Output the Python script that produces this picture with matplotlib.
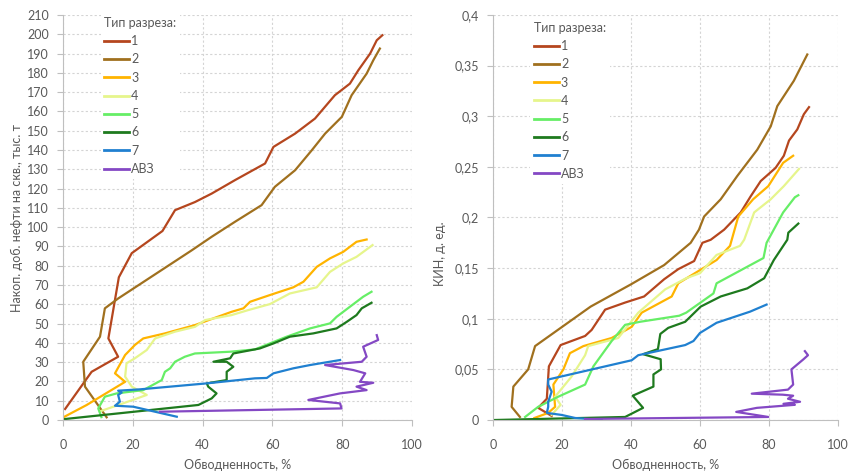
import numpy as np
import matplotlib
matplotlib.use("Agg")
import matplotlib.pyplot as plt
from matplotlib.ticker import MultipleLocator, FuncFormatter

# ---- data: left panel (накопленная добыча, тыс. т) ----
labels = ["1", "2", "3", "4", "5", "6", "7", "АВЗ"]
colors = ["#B5461E", "#A0701E", "#FFB400", "#E6F58C", "#66EE66", "#1E7A1E", "#2080D0", "#8448C4"]

l1_x = [0.6, 8.2, 15.8, 13.0, 16.0, 19.7, 28.5, 32.1, 37.8, 42.6, 49.3, 57.9, 60.3, 66.5, 72.2, 77.9, 82.2, 84.6, 88.0, 89.9, 91.5]
l1_y = [5.7, 25.0, 32.8, 42.3, 74.0, 86.5, 98.0, 108.8, 113.0, 117.4, 124.4, 133.0, 141.6, 148.5, 156.3, 168.4, 174.4, 181.3, 190.0, 196.9, 199.5]
l2_x = [12.5, 6.3, 5.8, 10.6, 12.0, 15.8, 32.6, 36.9, 42.6, 49.3, 56.9, 60.7, 66.5, 71.3, 75.1, 79.9, 82.7, 87.0, 88.9, 90.8]
l2_y = [1.4, 17.3, 30.2, 43.2, 57.9, 63.0, 82.9, 88.0, 95.0, 102.8, 111.4, 120.9, 129.5, 139.9, 148.5, 157.2, 168.4, 179.6, 186.5, 192.6]
l3_x = [0.1, 6.8, 17.8, 14.9, 17.8, 20.6, 23.0, 29.2, 37.8, 43.1, 48.3, 51.7, 53.6, 59.3, 66.0, 68.9, 72.7, 76.5, 80.3, 84.1, 87.0]
l3_y = [1.4, 7.8, 19.8, 24.2, 33.7, 38.9, 42.3, 44.9, 49.2, 52.7, 56.1, 57.9, 61.3, 64.8, 68.8, 71.7, 79.4, 83.8, 87.2, 92.4, 93.6]
l4_x = [10.6, 17.8, 24.0, 19.7, 17.8, 18.2, 20.6, 24.0, 26.4, 32.1, 37.8, 40.7, 48.3, 53.1, 59.3, 65.0, 72.7, 76.5, 80.3, 84.1, 88.7]
l4_y = [4.5, 9.0, 13.0, 17.3, 22.5, 29.4, 32.0, 36.3, 42.3, 45.8, 48.3, 51.8, 54.4, 57.0, 60.1, 65.6, 68.8, 76.8, 81.2, 84.6, 90.7]
l5_x = [11.0, 10.1, 12.0, 15.4, 23.0, 28.3, 29.2, 30.7, 32.1, 34.9, 37.8, 47.9, 55.0, 64.1, 70.8, 76.5, 78.4, 82.2, 86.0, 88.4]
l5_y = [1.5, 6.0, 12.1, 13.8, 15.5, 20.7, 25.0, 26.8, 30.2, 32.8, 34.5, 35.4, 36.6, 43.2, 47.5, 50.1, 53.5, 58.7, 63.9, 66.5]
l6_x = [0.0, 38.8, 42.6, 44.0, 41.6, 41.2, 46.9, 46.9, 48.8, 46.9, 43.1, 47.9, 48.8, 56.4, 60.3, 65.0, 71.7, 78.4, 81.3, 84.1, 85.6, 88.4]
l6_y = [0.4, 7.8, 11.2, 13.8, 17.3, 19.0, 20.7, 25.0, 27.6, 30.2, 30.2, 32.0, 34.5, 37.1, 39.7, 43.2, 44.9, 47.5, 50.9, 54.4, 57.9, 60.8]
l7_x = [32.6, 20.1, 14.9, 16.3, 15.8, 16.8, 15.8, 22.1, 41.2, 55.0, 58.4, 60.3, 66.0, 70.8, 79.4]
l7_y = [1.7, 6.9, 7.4, 9.5, 13.0, 14.2, 15.2, 15.9, 19.0, 21.6, 21.8, 24.2, 26.8, 28.5, 31.1]
l8_x = [27.8, 79.8, 79.4, 70.3, 79.4, 87.0, 84.1, 88.9, 85.1, 86.6, 83.2, 75.1, 85.6, 87.0, 86.0, 90.3, 89.9]
l8_y = [4.3, 6.0, 8.6, 10.4, 13.8, 15.5, 17.3, 19.3, 19.8, 24.2, 25.9, 28.5, 30.2, 32.8, 38.0, 41.5, 44.0]

# ---- data: right panel (КИН, д. ед.) ----
r1_x = [17.0, 13.1, 15.6, 16.2, 19.6, 26.7, 28.6, 32.5, 38.3, 43.8, 49.6, 53.7, 58.3, 60.7, 63.1, 67.0, 71.8, 74.7, 77.6, 81.9, 84.3, 85.8, 88.2, 90.1, 91.6]
r1_y = [0.004, 0.012, 0.021, 0.053, 0.074, 0.083, 0.089, 0.109, 0.116, 0.122, 0.139, 0.149, 0.157, 0.175, 0.178, 0.188, 0.205, 0.221, 0.236, 0.249, 0.261, 0.276, 0.287, 0.302, 0.309]
r2_x = [7.8, 5.4, 5.9, 10.2, 12.2, 28.3, 40.0, 49.6, 57.3, 59.7, 61.2, 66.0, 70.8, 76.6, 80.5, 82.4, 87.2, 91.1]
r2_y = [0.003, 0.013, 0.033, 0.050, 0.073, 0.112, 0.134, 0.153, 0.175, 0.188, 0.201, 0.218, 0.241, 0.267, 0.290, 0.310, 0.335, 0.361]
r3_x = [12.0, 16.0, 18.0, 17.5, 20.4, 22.3, 26.2, 34.4, 40.2, 43.1, 51.8, 53.7, 64.8, 68.7, 71.1, 75.4, 79.8, 84.1, 87.0]
r3_y = [0.002, 0.007, 0.013, 0.035, 0.050, 0.066, 0.073, 0.081, 0.092, 0.106, 0.122, 0.135, 0.158, 0.172, 0.201, 0.218, 0.231, 0.254, 0.261]
r4_x = [17.0, 19.6, 18.0, 22.8, 26.7, 27.6, 36.3, 42.1, 49.9, 56.0, 60.0, 64.8, 71.6, 72.8, 75.7, 80.5, 84.3, 88.7]
r4_y = [0.005, 0.015, 0.023, 0.043, 0.064, 0.073, 0.081, 0.106, 0.129, 0.140, 0.145, 0.163, 0.172, 0.178, 0.205, 0.218, 0.231, 0.248]
r5_x = [9.3, 13.1, 18.9, 26.7, 29.1, 34.4, 38.3, 42.6, 54.0, 56.0, 63.9, 64.8, 78.4, 79.3, 84.1, 87.5, 88.5]
r5_y = [0.003, 0.013, 0.023, 0.035, 0.053, 0.078, 0.094, 0.097, 0.103, 0.106, 0.125, 0.135, 0.160, 0.175, 0.205, 0.220, 0.222]
r6_x = [0.6, 38.3, 43.5, 40.5, 46.5, 46.5, 48.7, 48.6, 43.5, 47.8, 48.5, 50.8, 55.7, 60.2, 66.0, 73.7, 78.6, 81.4, 85.3, 85.6, 88.5]
r6_y = [0.0, 0.003, 0.012, 0.024, 0.033, 0.045, 0.050, 0.060, 0.065, 0.070, 0.085, 0.091, 0.097, 0.112, 0.122, 0.130, 0.140, 0.158, 0.178, 0.185, 0.194]
r7_x = [31.5, 23.8, 19.9, 15.6, 16.0, 16.0, 16.5, 17.0, 16.0, 16.0, 40.2, 42.1, 55.7, 58.1, 60.0, 64.8, 74.5, 79.3]
r7_y = [0.0, 0.002, 0.005, 0.007, 0.013, 0.018, 0.023, 0.028, 0.035, 0.040, 0.059, 0.064, 0.074, 0.078, 0.086, 0.096, 0.107, 0.114]
r8_x = [26.7, 79.8, 70.5, 76.5, 87.5, 84.2, 89.0, 85.5, 87.0, 84.0, 75.0, 85.5, 87.0, 86.5, 90.0, 91.3, 90.4]
r8_y = [0.001, 0.003, 0.008, 0.012, 0.015, 0.016, 0.018, 0.021, 0.024, 0.025, 0.026, 0.030, 0.035, 0.050, 0.060, 0.064, 0.068]

left_series = [(l1_x, l1_y), (l2_x, l2_y), (l3_x, l3_y), (l4_x, l4_y),
               (l5_x, l5_y), (l6_x, l6_y), (l7_x, l7_y), (l8_x, l8_y)]
right_series = [(r1_x, r1_y), (r2_x, r2_y), (r3_x, r3_y), (r4_x, r4_y),
                (r5_x, r5_y), (r6_x, r6_y), (r7_x, r7_y), (r8_x, r8_y)]

plt.rcParams['font.family'] = ['Lato', 'DejaVu Sans']
plt.rcParams['font.size'] = 9
txt = "#595959"

fig = plt.figure(figsize=(8.48, 4.73), dpi=100)
ax1 = fig.add_axes([63 / 848, 53 / 473, 349 / 848, 405 / 473])
ax2 = fig.add_axes([493 / 848, 53 / 473, 345 / 848, 405 / 473])


def style(ax, ymax, ystep):
    ax.set_xlim(0, 100)
    ax.set_ylim(0, ymax)
    ax.xaxis.set_major_locator(MultipleLocator(20))
    ax.yaxis.set_major_locator(MultipleLocator(ystep))
    ax.grid(True, color="#D4D4D4", linestyle=(0, (2, 2)), linewidth=0.8)
    ax.set_axisbelow(True)
    for s in ["top", "right"]:
        ax.spines[s].set_visible(False)
    for s in ["left", "bottom"]:
        ax.spines[s].set_color("#BFBFBF")
        ax.spines[s].set_linewidth(0.8)
    ax.tick_params(colors=txt, labelsize=9, length=4, width=0.8, pad=6)
    ax.tick_params(axis="both", color="#BFBFBF")
    ax.tick_params(axis="x", pad=10)
    ax.set_xlabel("Обводненность, %", color=txt, fontsize=9, labelpad=5)


for ax, series in [(ax1, left_series), (ax2, right_series)]:
    for (x, y), c, lab in zip(series, colors, labels):
        ax.plot(x, y, color=c, lw=1.6, label=lab, solid_joinstyle="round")

style(ax1, 210, 10)
style(ax2, 0.4, 0.05)
ax2.yaxis.set_major_formatter(FuncFormatter(lambda v, p: ("%g" % round(v, 3)).replace(".", ",")))

ax1.set_ylabel("Накоп. доб. нефти на скв., тыс. т", color=txt, fontsize=9)
ax1.yaxis.set_label_coords(-0.115, 0.5)
ax2.set_ylabel("КИН, д. ед.", color=txt, fontsize=9)
ax2.yaxis.set_label_coords(-0.136, 0.41)

for ax, anchor in [(ax1, (0.09, 1.02)), (ax2, (0.09, 1.008))]:
    leg = ax.legend(loc="upper left", bbox_to_anchor=anchor, title="Тип разреза:",
                    frameon=True, fancybox=False, edgecolor="none", facecolor="white",
                    framealpha=1, fontsize=9, title_fontsize=9, handlelength=2.0,
                    handletextpad=0.15, labelspacing=0.5, borderpad=0.3,
                    alignment="left")
    leg.get_title().set_color(txt)
    for t in leg.get_texts():
        t.set_color(txt)
    for h in leg.get_lines():
        h.set_linewidth(2.0)

fig.savefig("out.png", dpi=100)
